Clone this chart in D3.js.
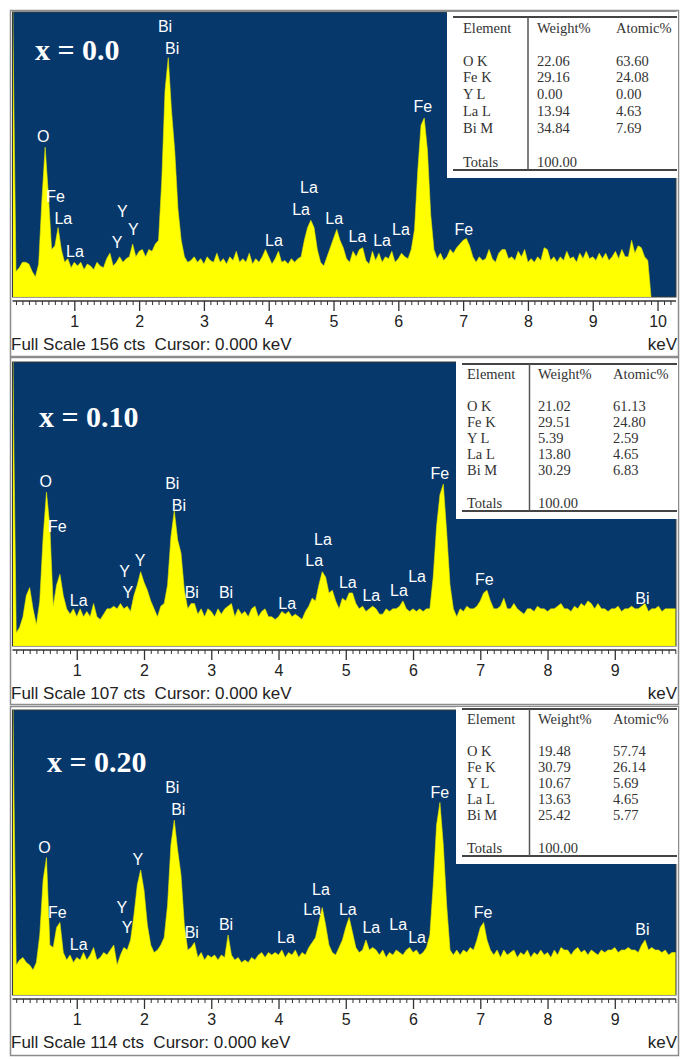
<!DOCTYPE html>
<html lang="en">
<head>
<meta charset="utf-8">
<title>EDX spectra</title>
<script src="https://d3js.org/d3.v7.min.js"></script>
<style>
  body { margin: 0; background: #fff; }
  svg { display: block; }
  .peak { font-family: "Liberation Sans", Arial, sans-serif; font-size: 16px; fill: #fff; }
  .tbl { font-family: "Liberation Serif", "Times New Roman", serif; font-size: 14.5px; fill: #333; }
  .ttl { font-family: "Liberation Serif", "Times New Roman", serif; font-weight: bold; font-size: 30px; fill: #fff; }
  .ax text { font-family: "Liberation Sans", Arial, sans-serif; font-size: 16px; fill: #222; }
  .foot { font-family: "Liberation Sans", Arial, sans-serif; font-size: 17px; fill: #222; }
</style>
</head>
<body>
<svg id="chart" width="685" height="1059"></svg>
<script>
// counts per channel, channels every 0.05 keV starting at 0.05 keV
var kevStart = 0.05, kevStep = 0.05;

var counts00 = [
  156,14,16,19,19,18,14,11,18,53,82,56,26,28,38,26,19,21,16,19,
  17,19,15,18,17,15,19,17,16,21,24,17,19,22,19,21,22,29,22,25,
  26,22,26,25,29,31,64,113,131,102,80,48,31,22,19,20,22,19,21,18,
  22,20,19,24,19,21,18,22,20,25,19,21,19,24,18,21,19,22,26,22,
  18,21,25,19,20,18,21,19,21,22,31,38,42,38,26,19,17,22,27,32,
  37,31,27,21,19,25,22,26,27,20,18,25,20,24,19,22,21,25,19,21,
  24,22,21,26,37,69,94,98,80,45,26,21,24,20,22,26,24,27,29,31,
  32,28,22,19,22,20,21,26,21,19,24,26,26,21,22,20,25,22,26,19,
  21,19,22,20,27,26,20,22,19,22,20,25,21,22,19,24,21,25,21,22,
  20,24,21,24,20,22,25,21,26,22,22,31,24,28,27,22,20,0
];
var counts10 = [
  107,5,7,11,19,22,14,8,17,41,58,45,15,23,27,19,14,12,14,11,
  14,11,13,11,16,11,10,12,14,14,15,14,16,14,15,13,19,23,28,24,
  21,17,14,11,15,16,23,41,51,40,35,21,14,16,16,12,14,11,14,13,
  11,14,12,14,15,16,11,14,12,13,11,14,15,11,13,14,11,11,10,11,
  13,12,13,11,12,11,10,13,15,18,17,23,28,26,20,21,17,14,18,17,
  20,20,16,14,15,13,14,15,14,12,12,14,13,14,14,15,17,14,13,14,
  13,14,13,14,14,26,45,57,61,43,23,14,11,14,13,15,14,14,15,17,
  20,21,17,14,14,15,18,14,14,16,14,13,12,14,14,13,15,14,14,13,
  14,14,15,16,14,14,13,15,14,16,15,17,16,14,16,14,14,13,14,14,
  15,13,14,14,15,14,14,15,16,13,14,14,15,13,14,14,14,14,14
];
var counts20 = [
  114,12,14,15,13,12,10,13,24,46,55,20,19,27,29,17,14,16,13,15,
  14,17,14,16,19,14,15,17,16,18,20,12,16,19,18,22,32,44,50,42,
  28,20,17,18,20,23,36,60,70,58,48,28,18,19,21,15,17,14,16,15,
  16,14,16,15,24,16,14,15,13,14,13,15,14,16,17,15,17,16,17,16,
  18,15,17,16,18,15,17,16,19,21,23,29,35,28,20,17,16,19,22,27,
  31,25,19,17,18,22,18,19,18,16,18,15,17,16,18,17,16,18,19,17,
  18,16,17,19,24,44,68,77,60,36,18,16,18,16,18,17,19,18,22,27,
  29,22,18,16,18,15,18,16,17,18,15,17,16,18,15,17,16,18,16,17,
  15,18,16,19,18,18,16,18,19,17,18,16,18,17,16,18,17,18,18,19,
  17,18,18,19,18,18,17,20,22,18,19,18,18,17,18,16,17,17,17
];

// peak labels: [text, keV, label baseline in cts]
var peaks00 = [
  ["O",0.52,85], ["Fe",0.71,52], ["La",0.83,40], ["La",1.01,22],
  ["Y",1.74,44], ["Y",1.66,27], ["Y",1.91,34],
  ["Bi",2.40,145], ["Bi",2.51,133],
  ["La",4.08,28], ["La",4.62,57], ["La",4.50,45], ["La",5.01,40],
  ["La",5.37,30], ["La",5.75,28], ["La",6.04,34],
  ["Fe",6.38,101], ["Fe",7.01,34]
];
var peaks10 = [
  ["O",0.54,60], ["Fe",0.71,43], ["La",1.03,15],
  ["Y",1.71,26], ["Y",1.76,18], ["Y",1.94,30],
  ["Bi",2.42,59], ["Bi",2.52,51], ["Bi",2.71,18], ["Bi",3.22,18],
  ["La",4.13,14], ["La",4.66,38], ["La",4.53,30], ["La",5.03,22],
  ["La",5.38,17], ["La",5.79,19], ["La",6.06,24],
  ["Fe",6.40,63], ["Fe",7.06,23], ["Bi",9.41,16]
];
var peaks20 = [
  ["O",0.52,57], ["Fe",0.71,31], ["La",1.03,18],
  ["Y",1.67,33], ["Y",1.75,25], ["Y",1.91,52],
  ["Bi",2.42,81], ["Bi",2.51,72], ["Bi",2.71,23], ["Bi",3.22,26],
  ["La",4.11,21], ["La",4.63,40], ["La",4.50,32], ["La",5.03,32],
  ["La",5.38,25], ["La",5.78,26], ["La",6.06,21],
  ["Fe",6.40,79], ["Fe",7.04,31], ["Bi",9.41,24]
];

var titles = ["x = 0.0", "x = 0.10", "x = 0.20"];
var fullScale = [156, 107, 114];
var kevMax = [10.285, 9.91, 9.91];
var tickLabels00 = [1, 2, 3, 4, 5, 6, 7, 8, 9, 10];
var tickLabels10 = [1, 2, 3, 4, 5, 6, 7, 8, 9];

var tableHead = ["Element", "Weight%", "Atomic%"];
var elements = ["O K", "Fe K", "Y L", "La L", "Bi M"];
var weight00 = ["22.06", "29.16", "0.00", "13.94", "34.84"];
var atomic00 = ["63.60", "24.08", "0.00", "4.63", "7.69"];
var weight10 = ["21.02", "29.51", "5.39", "13.80", "30.29"];
var atomic10 = ["61.13", "24.80", "2.59", "4.65", "6.83"];
var weight20 = ["19.48", "30.79", "10.67", "13.63", "25.42"];
var atomic20 = ["57.74", "26.14", "5.69", "4.65", "5.77"];
var totals = "100.00";

// panel geometry
var layout = [
  {frameTop: 10, frameBottom: 356, plotTop: 12, plotBottom: 297, titleX: 35, titleY: 60,
   boxLeft: 447, col1: 463, col2: 537, col3: 616, vline: 528, tLine: 17, tH: 153},
  {frameTop: 357, frameBottom: 704, plotTop: 362, plotBottom: 646, titleX: 39, titleY: 427,
   boxLeft: 456, col1: 467, col2: 538, col3: 613, vline: 529.5, tLine: 364, tH: 147},
  {frameTop: 706, frameBottom: 1055, plotTop: 710, plotBottom: 995, titleX: 47, titleY: 772,
   boxLeft: 456, col1: 467, col2: 538, col3: 613, vline: 529.5, tLine: 709, tH: 147}
];
var plotLeft = 12.5, plotRight = 676, zeroX = 9.5;
var blue = "#06386c", yellow = "#ffff00";

var panels = [
  {counts: counts00, peaks: peaks00, ticks: tickLabels00, weight: weight00, atomic: atomic00},
  {counts: counts10, peaks: peaks10, ticks: tickLabels10, weight: weight10, atomic: atomic10},
  {counts: counts20, peaks: peaks20, ticks: tickLabels10, weight: weight20, atomic: atomic20}
];

var svg = d3.select("#chart");

panels.forEach(function (p, k) {
  var L = layout[k];
  var g = svg.append("g");

  // outer frame
  g.append("rect")
    .attr("x", 10.5).attr("y", L.frameTop + 0.5)
    .attr("width", 668).attr("height", L.frameBottom - L.frameTop)
    .attr("fill", "#fff").attr("stroke", "#8c8c8c").attr("stroke-width", 1.5);

  // plot background
  g.append("rect")
    .attr("x", plotLeft).attr("y", L.plotTop)
    .attr("width", plotRight - plotLeft).attr("height", L.plotBottom - L.plotTop)
    .attr("fill", blue).attr("stroke", "#3a3a3a").attr("stroke-width", 1);

  var x = d3.scaleLinear().domain([0, kevMax[k]]).range([zeroX, plotRight]);
  var y = d3.scaleLinear().domain([0, fullScale[k]]).range([L.plotBottom, L.plotTop]);

  var clipId = "clip" + k;
  svg.append("clipPath").attr("id", clipId).append("rect")
    .attr("x", plotLeft + 0.5).attr("y", L.plotTop)
    .attr("width", plotRight - plotLeft - 1).attr("height", L.plotBottom - L.plotTop);

  var area = d3.area()
    .x(function (d, i) { return x(kevStart + i * kevStep); })
    .y0(y(0))
    .y1(function (d) { return y(d); });

  g.append("path")
    .datum(p.counts)
    .attr("clip-path", "url(#" + clipId + ")")
    .attr("d", area)
    .attr("fill", yellow)
    .attr("stroke", "#e4e400").attr("stroke-width", 0.6);

  // peak labels
  g.selectAll("text.peak")
    .data(p.peaks)
    .enter().append("text")
    .attr("class", "peak")
    .attr("x", function (d) { return x(d[1]); })
    .attr("y", function (d) { return y(d[2]); })
    .attr("text-anchor", "middle")
    .text(function (d) { return d[0]; });

  // title
  g.append("text").attr("class", "ttl")
    .attr("x", L.titleX).attr("y", L.titleY).text(titles[k]);

  // result table
  var top = Math.max(L.tLine - 5, L.frameTop + 1);
  g.append("rect")
    .attr("x", L.boxLeft).attr("y", top)
    .attr("width", 678 - L.boxLeft).attr("height", L.tLine + L.tH + 8 - top)
    .attr("fill", "#fff");
  [L.tLine, L.tLine + L.tH].forEach(function (ly) {
    g.append("line")
      .attr("x1", L.boxLeft + 6).attr("x2", 677)
      .attr("y1", ly).attr("y2", ly)
      .attr("stroke", "#444").attr("stroke-width", 2);
  });
  g.append("line")
    .attr("x1", L.vline).attr("x2", L.vline)
    .attr("y1", L.tLine).attr("y2", L.tLine + L.tH)
    .attr("stroke", "#555").attr("stroke-width", 1.5);

  var cols = [L.col1, L.col2, L.col3];
  tableHead.forEach(function (h, j) {
    g.append("text").attr("class", "tbl")
      .attr("x", cols[j]).attr("y", L.tLine + 0.104 * L.tH).text(h);
  });
  elements.forEach(function (el, r) {
    var ry = L.tLine + (0.317 + 0.11 * r) * L.tH;
    [el, p.weight[r], p.atomic[r]].forEach(function (v, j) {
      g.append("text").attr("class", "tbl")
        .attr("x", cols[j]).attr("y", ry).text(v);
    });
  });
  g.append("text").attr("class", "tbl")
    .attr("x", cols[0]).attr("y", L.tLine + 0.98 * L.tH).text("Totals");
  g.append("text").attr("class", "tbl")
    .attr("x", cols[1]).attr("y", L.tLine + 0.98 * L.tH).text(totals);

  // energy ruler
  var axY = L.plotBottom + 4;
  var minor = d3.range(1, Math.floor(kevMax[k] * 10) + 1).map(function (v) { return v / 10; })
    .filter(function (v) { return x(v) > plotLeft && x(v) < plotRight && Math.abs(v - Math.round(v)) > 1e-6; });

  g.append("g").attr("class", "ax")
    .attr("transform", "translate(0," + axY + ")")
    .call(d3.axisBottom(x).tickValues(minor).tickSize(4).tickFormat(""))
    .call(function (s) { s.select(".domain").remove(); s.selectAll("line").attr("stroke", "#333"); });

  g.append("g").attr("class", "ax")
    .attr("transform", "translate(0," + axY + ")")
    .call(d3.axisBottom(x).tickValues(p.ticks).tickSize(10).tickPadding(5).tickFormat(d3.format("d")))
    .call(function (s) {
      s.select(".domain").remove();
      s.selectAll("line").attr("stroke", "#333").attr("stroke-width", 1.3);
      s.selectAll("text").attr("fill", "#222");
    });

  g.append("line")
    .attr("x1", plotLeft).attr("x2", plotRight)
    .attr("y1", axY).attr("y2", axY)
    .attr("stroke", "#333").attr("stroke-width", 1.3);

  g.append("text").attr("class", "foot")
    .attr("x", 11).attr("y", L.plotBottom + 53)
    .attr("xml:space", "preserve")
    .style("white-space", "pre")
    .text("Full Scale " + fullScale[k] + " cts  Cursor: 0.000 keV");
  g.append("text").attr("class", "foot")
    .attr("x", 677).attr("y", L.plotBottom + 53)
    .attr("text-anchor", "end")
    .text("keV");
});
</script>
</body>
</html>
